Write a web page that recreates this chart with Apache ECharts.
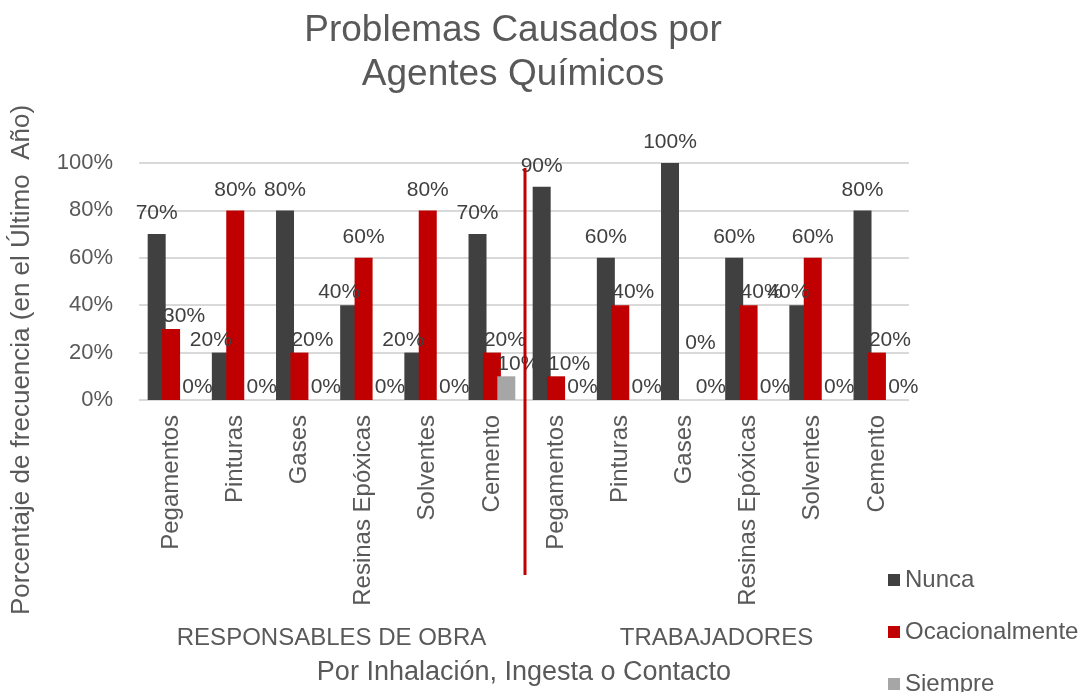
<!DOCTYPE html>
<html>
<head>
<meta charset="utf-8">
<script src="https://cdn.jsdelivr.net/npm/echarts@6/dist/echarts.min.js"></script>
<style>
  html, body { margin: 0; padding: 0; background: #fff; }
  #chart { width: 1082px; height: 692px; }
</style>
</head>
<body>
<div id="chart"></div>
<script>
const categories = ['Pegamentos', 'Pinturas', 'Gases', 'Resinas Epóxicas', 'Solventes', 'Cemento',
                    'Pegamentos', 'Pinturas', 'Gases', 'Resinas Epóxicas', 'Solventes', 'Cemento'];
const groups = ['RESPONSABLES DE OBRA', 'TRABAJADORES'];
const seriesNames = ['Nunca', 'Ocacionalmente', 'Siempre'];
const nunca = [70, 20, 80, 40, 20, 70, 90, 60, 100, 60, 40, 80];
const ocasional = [30, 80, 20, 60, 80, 20, 10, 40, 0, 40, 60, 20];
const siempre = [0, 0, 0, 0, 0, 10, 0, 0, 0, 0, 0, 0];

const textColor = '#595959';
const font = 'Liberation Sans, Arial, sans-serif';
const colors = ['#404040', '#c00000', '#a6a6a6'];

const chart = echarts.init(document.getElementById('chart'));

const labelStyle = {
  show: true,
  position: 'top',
  distance: 10,
  formatter: p => p.value + '%',
  fontSize: 21,
  color: '#404040',
  fontFamily: font
};

// shorter bar of a pair gets its label pushed sideways, as in the original;
// an empty bar in the middle slot has its label lifted out of the way
function items(values, others, dx, liftZero) {
  return values.map((v, i) => {
    if (liftZero && v === 0) return { value: v, label: { offset: [16, -36] } };
    const shorter = others.some(o => o[i] > v);
    return shorter ? { value: v, label: { offset: [dx, 8] } } : v;
  });
}

const yName = {
  type: 'text',
  x: 22,
  y: 360,
  rotation: Math.PI / 2,
  style: {
    text: 'Porcentaje de frecuencia (en el Último  Año)',
    fontSize: 26,
    fill: textColor,
    fontFamily: font,
    align: 'center',
    verticalAlign: 'middle'
  }
};

// one legend box per entry, stacked vertically
const legendTops = [568, 620, 672];
const legends = seriesNames.map((n, i) => ({
  data: [n],
  orient: 'vertical',
  left: 888,
  top: legendTops[i],
  padding: 0,
  itemWidth: 12,
  itemHeight: 12,
  icon: 'rect',
  textStyle: { fontSize: 24, color: textColor, fontFamily: font }
}));

const option = {
  animation: false,
  textStyle: { fontFamily: font },
  title: {
    text: 'Problemas Causados por\nAgentes Químicos',
    left: 508,
    top: 4,
    textAlign: 'center',
    textStyle: { fontSize: 37, fontWeight: 'normal', color: textColor, lineHeight: 44, fontFamily: font }
  },
  legend: legends,
  grid: { left: 139, right: 173, top: 163, bottom: 292 },
  xAxis: [
    {
      type: 'category',
      data: categories,
      axisTick: { show: false },
      axisLine: { show: false },
      axisLabel: { interval: 0, rotate: 90, fontSize: 24, color: textColor, margin: 15, fontFamily: font },
      name: 'Por Inhalación, Ingesta o Contacto',
      nameLocation: 'middle',
      nameGap: 259,
      nameTextStyle: { fontSize: 27, color: textColor, fontFamily: font }
    },
    {
      type: 'category',
      data: groups,
      position: 'bottom',
      offset: 218,
      axisTick: { show: false },
      axisLine: { show: false },
      axisLabel: { interval: 0, fontSize: 24, color: textColor, fontFamily: font }
    }
  ],
  yAxis: {
    type: 'value',
    min: 0,
    max: 100,
    interval: 20,
    axisLabel: {
      formatter: v => v + '%',
      fontSize: 22,
      color: textColor,
      margin: 26,
      fontFamily: font
    },
    splitLine: { lineStyle: { color: '#d9d9d9', width: 2 } }
  },
  series: [
    { name: seriesNames[0], type: 'bar', data: items(nunca, [ocasional], -10), itemStyle: { color: colors[0] },
      barWidth: 18, barGap: '-20%', label: labelStyle },
    { name: seriesNames[1], type: 'bar', data: items(ocasional, [nunca], 13, true), itemStyle: { color: colors[1] },
      barWidth: 18, label: labelStyle },
    { name: seriesNames[2], type: 'bar', data: items(siempre, [nunca, ocasional], 12), itemStyle: { color: colors[2] },
      barWidth: 18, label: labelStyle }
  ],
  graphic: [yName]
};

chart.setOption(option);

// red divider between the two groups
const x5 = chart.convertToPixel({ xAxisIndex: 0 }, 5);
const x6 = chart.convertToPixel({ xAxisIndex: 0 }, 6);
const xs = (x5 + x6) / 2 + 1;
chart.setOption({
  graphic: [
    yName,
    {
      type: 'line',
      shape: { x1: xs, y1: 168, x2: xs, y2: 575 },
      style: { stroke: '#c00000', lineWidth: 3 },
      z: 100
    }
  ]
});
</script>
</body>
</html>
